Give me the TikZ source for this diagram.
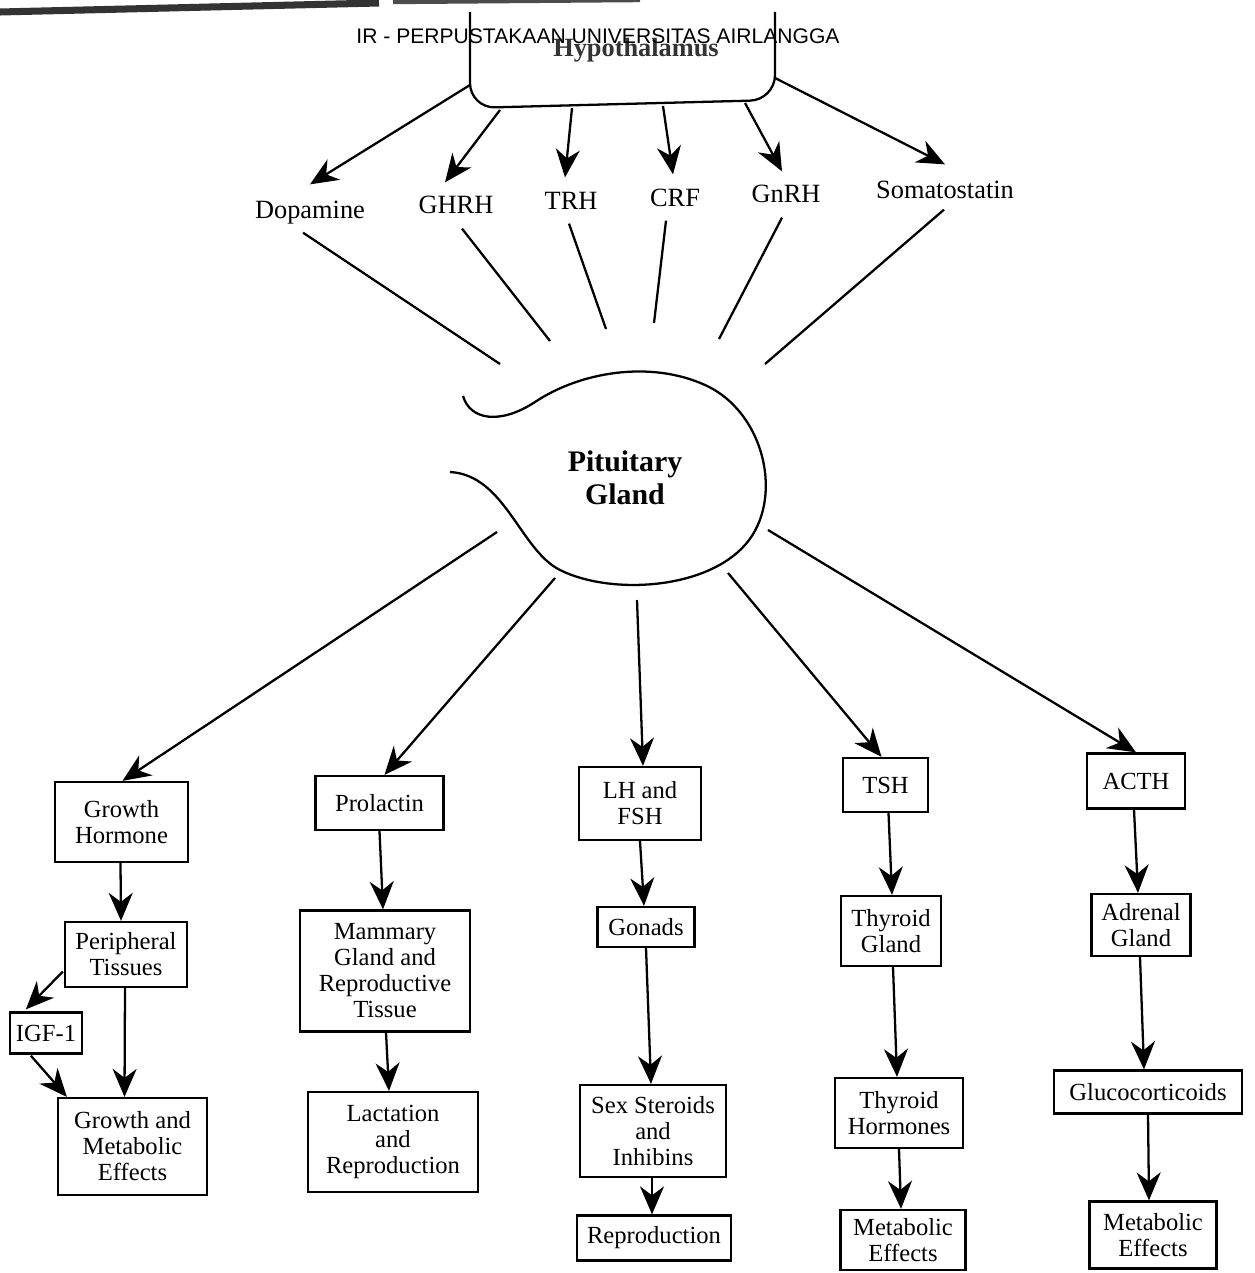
\documentclass[tikz,border=0pt]{standalone}
\usepackage{fontspec}
\setmainfont{Liberation Serif}
\newfontfamily\wmfont{Liberation Sans}
\usetikzlibrary{arrows.meta,calc}
\begin{document}
\begin{tikzpicture}[x=0.02cm,y=-0.02cm,
  line width=1.3pt,
  box/.style={draw, line width=1.3pt, align=center, font=\fontsize{14}{14.8}\selectfont, inner sep=1pt},
  hlab/.style={font=\fontsize{15}{16}\selectfont, inner sep=0pt, text height=0.36cm, text depth=0.1cm},
  arr/.style={-{Stealth[length=0.56cm,width=0.48cm,inset=0.18cm]}}]
\useasboundingbox (0,0) rectangle (1254,1273);

% page edge
\draw[line width=4pt, black!80] (0,12) -- (379,3);
\draw[line width=2.5pt, black!70] (393,2) -- (640,0);

% hypothalamus
\draw[rounded corners=0.5cm] (470,12) -- (470,108) -- (775,100) -- (775,12);
\node[font=\bfseries\fontsize{15}{17}\selectfont, text=black!80] (hyp) at (636,50) {Hypothalamus};

\coordinate (h1) at (470,85);
\coordinate (h2) at (500,110);
\coordinate (h3) at (572,108);
\coordinate (h4) at (663,106);
\coordinate (h5) at (745,103);
\coordinate (h6) at (775,78);

\node[hlab] (dop) at (310,212) {Dopamine};
\node[hlab] (ghrh) at (456,207) {GHRH};
\node[hlab] (trh) at (571,203) {TRH};
\node[hlab] (crf) at (675,200) {CRF};
\node[hlab] (gnrh) at (786,196) {GnRH};
\node[hlab] (som) at (945,192) {Somatostatin};

\draw[arr] (h1) -- ($(dop.north)+(0,-15)$);
\draw[arr] (h2) -- ($(ghrh.north)+(-11,-12)$);
\draw[arr] (h3) -- ($(trh.north)+(-6,-13)$);
\draw[arr] (h4) -- ($(crf.north)+(-2,-13)$);
\draw[arr] (h5) -- ($(gnrh.north)+(-4,-12)$);
\draw[arr] (h6) -- ($(som.north)+(0,-15)$);

% lines to pituitary
\coordinate (p1) at (500,364);
\coordinate (p2) at (550,341);
\coordinate (p3) at (606,329);
\coordinate (p4) at (654,323);
\coordinate (p5) at (719,339);
\coordinate (p6) at (765,364);
\draw ($(dop.south)+(-7,8)$) -- (p1);
\draw ($(ghrh.south)+(6,9)$) -- (p2);
\draw ($(trh.south)+(-2,8)$) -- (p3);
\draw ($(crf.south)+(-9,8)$) -- (p4);
\draw ($(gnrh.south)+(-4,9)$) -- (p5);
\draw ($(som.south)+(-1,5)$) -- (p6);

% pituitary gland
\draw (463,396) .. controls (470,420) and (500,425) .. (535,402)
  .. controls (580,372) and (650,360) .. (705,385)
  .. controls (765,412) and (785,500) .. (745,545)
  .. controls (705,590) and (610,595) .. (560,570)
  .. controls (520,550) and (505,475) .. (450,472);
\node[font=\bfseries\fontsize{17}{18.8}\selectfont, align=center] (pit) at (625,478) {Pituitary\\Gland};

\coordinate (q1) at (497,532);
\coordinate (q2) at (555,578);
\coordinate (q3) at (637,600);
\coordinate (q4) at (728,573);
\coordinate (q5) at (768,530);

% column 1
\node[box, minimum width=2.66cm, minimum height=1.6cm] (gh) at (121.5,822) {Growth\\Hormone};
\node[box, minimum width=2.44cm, minimum height=1.3cm] (pt) at (126,954.5) {Peripheral\\Tissues};
\node[box, minimum width=1.44cm, minimum height=0.82cm] (igf) at (46,1033) {IGF-1};
\node[box, minimum width=2.98cm, minimum height=1.94cm] (gme) at (132.5,1146.5) {Growth and\\Metabolic\\Effects};
% column 2
\node[box, minimum width=2.56cm, minimum height=1.08cm] (prl) at (379.5,803) {Prolactin};
\node[box, minimum width=3.4cm, minimum height=2.42cm] (mam) at (385,971) {Mammary\\Gland and\\Reproductive\\Tissue};
\node[box, minimum width=3.4cm, minimum height=2.0cm] (lac) at (393,1142) {Lactation\\and\\Reproduction};
% column 3
\node[box, minimum width=2.44cm, minimum height=1.46cm] (lh) at (640,803.5) {LH and\\FSH};
\node[box, minimum width=1.94cm, minimum height=0.8cm] (gon) at (646,927) {Gonads};
\node[box, minimum width=2.92cm, minimum height=1.84cm] (sex) at (653,1131) {Sex Steroids\\and\\Inhibins};
\node[box, minimum width=3.08cm, minimum height=0.9cm] (rep) at (654,1238) {Reproduction};
% column 4
\node[box, minimum width=1.7cm, minimum height=1.08cm] (tsh) at (885.5,785) {TSH};
\node[box, minimum width=2.0cm, minimum height=1.4cm] (thg) at (891,931) {Thyroid\\Gland};
\node[box, minimum width=2.56cm, minimum height=1.4cm] (thh) at (899,1113) {Thyroid\\Hormones};
\node[box, minimum width=2.5cm, minimum height=1.2cm] (me1) at (903,1240) {Metabolic\\Effects};
% column 5
\node[box, minimum width=1.96cm, minimum height=1.1cm] (acth) at (1136,781) {ACTH};
\node[box, minimum width=1.98cm, minimum height=1.24cm] (adr) at (1141,925) {Adrenal\\Gland};
\node[box, minimum width=3.76cm, minimum height=0.86cm] (glu) at (1148,1092) {Glucocorticoids};
\node[box, minimum width=2.54cm, minimum height=1.34cm] (me2) at (1153,1235) {Metabolic\\Effects};

% pituitary arrows
\draw[arr] (q1) -- ($(gh.north)+(1,0)$);
\draw[arr] (q2) -- ($(prl.north)+(5,0)$);
\draw[arr] (q3) -- ($(lh.north)+(3,0)$);
\draw[arr] (q4) -- ($(tsh.north)+(-4,0)$);
\draw[arr] (q5) -- ($(acth.north)+(0,0)$);

% column arrows
\draw[arr] ($(gh.south)+(-1,0)$) -- ($(pt.north)+(-5,0)$);
\draw[arr] ($(pt.south)+(-1,0)$) -- ($(gme.north)+(-8,0)$);
\draw[arr] ($(pt.west)+(-1,17)$) -- ($(igf.north west)+(17,-2)$);
\draw[arr] ($(igf.south west)+(22,1)$) -- ($(gme.north west)+(10,0)$);

\draw[arr] (prl.south) -- ($(mam.north)+(-2,0)$);
\draw[arr] ($(mam.south)+(1,0)$) -- ($(lac.north)+(-4,0)$);

\draw[arr] (lh.south) -- ($(gon.north)+(-2,0)$);
\draw[arr] ($(gon.south)+(0,0)$) -- ($(sex.north)+(-2,0)$);
\draw[arr] ($(sex.south)+(-1,0)$) -- ($(rep.north)+(-2,0)$);

\draw[arr] ($(tsh.south)+(3,0)$) -- ($(thg.north)+(1,0)$);
\draw[arr] ($(thg.south)+(2,0)$) -- ($(thh.north)+(-2,0)$);
\draw[arr] ($(thh.south)+(0,0)$) -- ($(me1.north)+(-2,0)$);

\draw[arr] ($(acth.south)+(-2,0)$) -- ($(adr.north)+(-3,0)$);
\draw[arr] ($(adr.south)+(-1,0)$) -- ($(glu.north)+(-4,0)$);
\draw[arr] ($(glu.south)+(0,0)$) -- ($(me2.north)+(-4,0)$);

% watermark
\node[font=\wmfont\fontsize{12}{14}\selectfont] (wm) at (598,36) {IR - PERPUSTAKAAN UNIVERSITAS AIRLANGGA};
\end{tikzpicture}
\end{document}
